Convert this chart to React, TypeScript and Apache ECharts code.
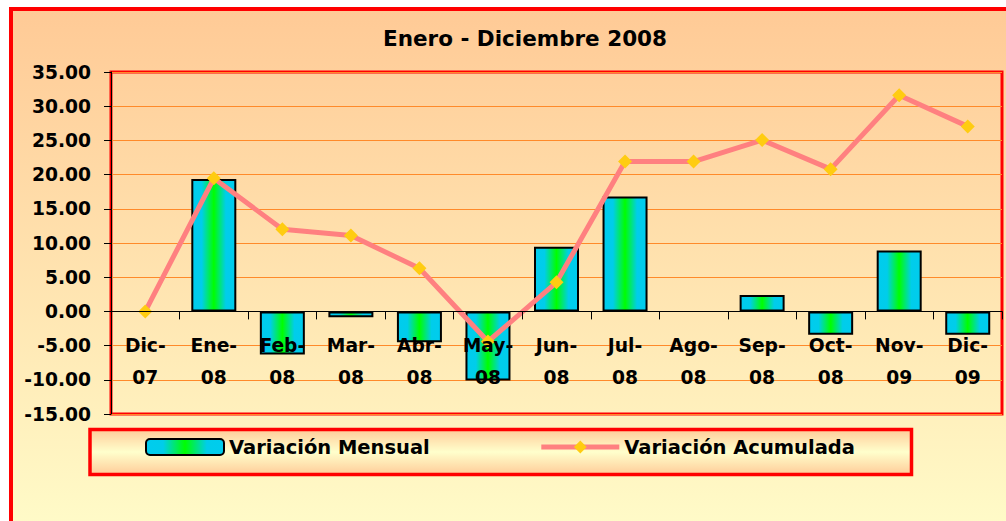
import React, { useEffect, useRef } from "react";
import * as echarts from "echarts";

const categories = ["Dic-07", "Ene-08", "Feb-08", "Mar-08", "Abr-08", "May-08", "Jun-08", "Jul-08", "Ago-08", "Sep-08", "Oct-08", "Nov-09", "Dic-09"];
const variacionMensual = [0, 19.35, -6.3, -0.85, -4.5, -10.1, 9.45, 16.8, 0, 2.4, -3.4, 8.9, -3.4];
const variacionAcumulada = [0, 19.45, 12.0, 11.1, 6.3, -4.4, 4.25, 21.9, 21.9, 25.05, 20.8, 31.6, 27.05];
const yMin = -15;
const yMax = 35;
const yInterval = 5;
const titleText = "Enero - Diciembre 2008";
const seriesNames = ["Variación Mensual", "Variación Acumulada"];

const FONT = "DejaVu Sans";
const GRID_TOP = 72;
const GRID_HEIGHT = 342;

export default function App() {
  const ref = useRef<HTMLDivElement>(null);
  useEffect(() => {
    if (!ref.current) return;
    const chart = echarts.init(ref.current, null, { renderer: "svg" });
    const barGradient = new echarts.graphic.LinearGradient(0, 0, 1, 0, [
      { offset: 0, color: "#00CCEE" },
      { offset: 0.22, color: "#00CDEA" },
      { offset: 0.5, color: "#00FF00" },
      { offset: 0.78, color: "#00CDEA" },
      { offset: 1, color: "#00CCEE" },
    ]);
    // distance from grid bottom up to the zero line, derived from the axis range
    const zeroOffset = -(GRID_HEIGHT * (0 - yMin)) / (yMax - yMin);
    const barData = variacionMensual.map((v) =>
      v === 0 ? { value: v, itemStyle: { borderWidth: 0 } } : v
    );
    chart.setOption({
      animation: false,
      backgroundColor: "#FFFFFF",
      title: {
        text: titleText,
        left: 520,
        top: 33,
        textAlign: "center",
        textVerticalAlign: "middle",
        textStyle: { fontFamily: FONT, fontSize: 21.5, fontWeight: "bold", color: "#000" },
      },
      graphic: [
        {
          type: "rect",
          z: -100,
          shape: { x: 11, y: 9, width: 1040, height: 560 },
          style: {
            fill: new echarts.graphic.LinearGradient(0, 0, 0, 1, [
              { offset: 0, color: "#FFCA96" },
              { offset: 1, color: "#FFFFCC" },
            ]),
            stroke: "#FF0000",
            lineWidth: 4,
          },
        },
        {
          type: "rect",
          z: -50,
          shape: { x: 90, y: 429.5, width: 821.5, height: 45 },
          style: {
            fill: new echarts.graphic.LinearGradient(0, 0, 0, 1, [
              { offset: 0, color: "#FFCC99" },
              { offset: 0.5, color: "#FFFFCC" },
              { offset: 1, color: "#FFCC99" },
            ]),
            stroke: "#FF0000",
            lineWidth: 3.5,
          },
        },
      ],
      legend: {
        left: 145,
        top: 436,
        itemWidth: 78,
        itemHeight: 16,
        itemGap: 109,
        padding: 0,
        data: [
          { name: seriesNames[0], itemStyle: { borderWidth: 2, borderColor: "#000" } },
          { name: seriesNames[1], lineStyle: { width: 5, color: "#FF8080" } },
        ],
        textStyle: { fontFamily: FONT, fontSize: 19.5, fontWeight: "bold", color: "#000", lineHeight: 22 },
      },
      grid: {
        left: 111,
        top: GRID_TOP,
        right: 4,
        height: GRID_HEIGHT,
        show: true,
        borderColor: "#FF0000",
        borderWidth: 3,
        backgroundColor: "transparent",
        containLabel: false,
        outerBoundsMode: "none",
      },
      xAxis: {
        type: "category",
        data: categories,
        position: "bottom",
        offset: zeroOffset,
        z: 10,
        axisLine: { onZero: false, lineStyle: { color: "#000", width: 1 } },
        axisTick: { show: true, length: 8, lineStyle: { color: "#000" } },
        axisLabel: {
          interval: 0,
          margin: 18,
          fontFamily: FONT,
          fontSize: 18.7,
          fontWeight: "bold",
          color: "#000",
          lineHeight: 32,
          formatter: (v: string) => v.replace("-", "-\n"),
        },
        splitLine: { show: false },
      },
      yAxis: {
        type: "value",
        min: yMin,
        max: yMax,
        interval: yInterval,
        axisLine: { show: true, lineStyle: { color: "#000", width: 1 } },
        axisTick: { show: true, length: 7, lineStyle: { color: "#000" } },
        axisLabel: {
          margin: 20,
          fontFamily: FONT,
          fontSize: 18.7,
          fontWeight: "bold",
          color: "#000",
          formatter: (v: number) => v.toFixed(2),
        },
        splitLine: { show: true, lineStyle: { color: "#FF8A2A", width: 1 } },
      },
      series: [
        {
          name: seriesNames[0],
          type: "bar",
          data: barData,
          barWidth: 45,
          itemStyle: { color: barGradient, borderColor: "#000", borderWidth: 2 },
          z: 2,
        },
        {
          name: seriesNames[1],
          type: "line",
          data: variacionAcumulada,
          symbol: "diamond",
          symbolSize: 14,
          lineStyle: { color: "#FF8080", width: 5 },
          itemStyle: { color: "#FFCC11" },
          z: 3,
        },
      ],
    });
    return () => chart.dispose();
  }, []);
  return <div ref={ref} style={{ position: "absolute", left: 0, top: 0, width: 1006, height: 521 }} />;
}
